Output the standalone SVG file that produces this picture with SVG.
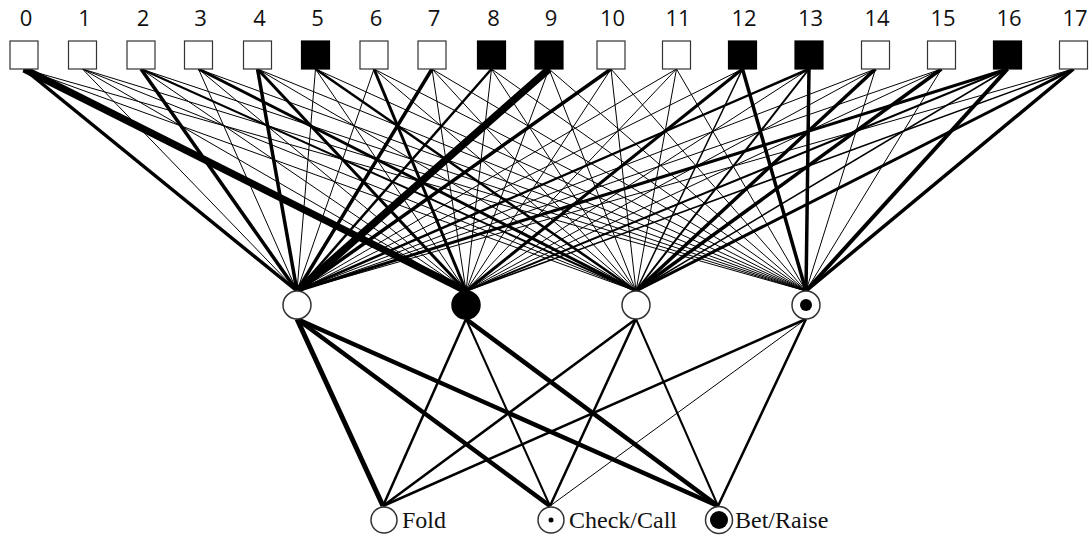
<svg xmlns="http://www.w3.org/2000/svg" width="1092" height="537" viewBox="0 0 1092 537">
<style>
.lbl{font-family:"Open Sans",sans-serif;font-size:22px;fill:#111;text-anchor:middle}
.out{font-family:"Liberation Serif",serif;font-size:24px;fill:#111}
.sq{fill:#fff;stroke:#333;stroke-width:1.2}
.sqf{fill:#000;stroke:#000;stroke-width:1.2}
.nd{fill:#fff;stroke:#333;stroke-width:1.5}
#edges line{stroke:#000;stroke-linecap:butt}
.a{stroke-width:1}.b{stroke-width:1.5}.c{stroke-width:2}.d{stroke-width:2.5}.e{stroke-width:3}.f{stroke-width:3.5}.g{stroke-width:4}.h{stroke-width:4.5}.i{stroke-width:5}.j{stroke-width:7}.k{stroke-width:7.5}
</style>
<rect width="1092" height="537" fill="#fff"/>
<g id="edges">
<!-- input 0 -->
<line class="f" x1="24" y1="69" x2="297" y2="291"/><line class="j" x1="24" y1="69" x2="466" y2="291"/><line class="a" x1="24" y1="69" x2="636" y2="291"/><line class="a" x1="24" y1="69" x2="806" y2="291"/>
<!-- 1 -->
<line class="a" x1="82.5" y1="69" x2="297" y2="291"/><line class="a" x1="82.5" y1="69" x2="466" y2="291"/><line class="a" x1="82.5" y1="69" x2="636" y2="291"/><line class="a" x1="82.5" y1="69" x2="806" y2="291"/>
<!-- 2 -->
<line class="f" x1="141" y1="69" x2="297" y2="291"/><line class="a" x1="141" y1="69" x2="466" y2="291"/><line class="c" x1="141" y1="69" x2="636" y2="291"/><line class="a" x1="141" y1="69" x2="806" y2="291"/>
<!-- 3 -->
<line class="a" x1="198.5" y1="69" x2="297" y2="291"/><line class="a" x1="198.5" y1="69" x2="466" y2="291"/><line class="e" x1="198.5" y1="69" x2="636" y2="291"/><line class="a" x1="198.5" y1="69" x2="806" y2="291"/>
<!-- 4 -->
<line class="f" x1="257.5" y1="69" x2="297" y2="291"/><line class="e" x1="257.5" y1="69" x2="466" y2="291"/><line class="a" x1="257.5" y1="69" x2="636" y2="291"/><line class="a" x1="257.5" y1="69" x2="806" y2="291"/>
<!-- 5 -->
<line class="a" x1="315.5" y1="69" x2="297" y2="291"/><line class="a" x1="315.5" y1="69" x2="466" y2="291"/><line class="d" x1="315.5" y1="69" x2="636" y2="291"/><line class="a" x1="315.5" y1="69" x2="806" y2="291"/>
<!-- 6 -->
<line class="a" x1="374" y1="69" x2="297" y2="291"/><line class="e" x1="374" y1="69" x2="466" y2="291"/><line class="a" x1="374" y1="69" x2="636" y2="291"/><line class="a" x1="374" y1="69" x2="806" y2="291"/>
<!-- 7 -->
<line class="f" x1="432" y1="69" x2="297" y2="291"/><line class="a" x1="432" y1="69" x2="466" y2="291"/><line class="a" x1="432" y1="69" x2="636" y2="291"/><line class="a" x1="432" y1="69" x2="806" y2="291"/>
<!-- 8 -->
<line class="d" x1="491.5" y1="69" x2="297" y2="291"/><line class="a" x1="491.5" y1="69" x2="466" y2="291"/><line class="a" x1="491.5" y1="69" x2="636" y2="291"/><line class="a" x1="491.5" y1="69" x2="806" y2="291"/>
<!-- 9 -->
<line class="k" x1="549" y1="69" x2="297" y2="291"/><line class="a" x1="549" y1="69" x2="466" y2="291"/><line class="a" x1="549" y1="69" x2="636" y2="291"/><line class="a" x1="549" y1="69" x2="806" y2="291"/>
<!-- 10 -->
<line class="f" x1="611" y1="69" x2="297" y2="291"/><line class="a" x1="611" y1="69" x2="466" y2="291"/><line class="a" x1="611" y1="69" x2="636" y2="291"/><line class="a" x1="611" y1="69" x2="806" y2="291"/>
<!-- 11 -->
<line class="a" x1="676.5" y1="69" x2="297" y2="291"/><line class="a" x1="676.5" y1="69" x2="466" y2="291"/><line class="a" x1="676.5" y1="69" x2="636" y2="291"/><line class="a" x1="676.5" y1="69" x2="806" y2="291"/>
<!-- 12 -->
<line class="a" x1="742.5" y1="69" x2="297" y2="291"/><line class="e" x1="742.5" y1="69" x2="466" y2="291"/><line class="b" x1="742.5" y1="69" x2="636" y2="291"/><line class="f" x1="742.5" y1="69" x2="806" y2="291"/>
<!-- 13 -->
<line class="d" x1="809" y1="69" x2="297" y2="291"/><line class="a" x1="809" y1="69" x2="466" y2="291"/><line class="c" x1="809" y1="69" x2="636" y2="291"/><line class="f" x1="809" y1="69" x2="806" y2="291"/>
<!-- 14 -->
<line class="a" x1="875.5" y1="69" x2="297" y2="291"/><line class="a" x1="875.5" y1="69" x2="466" y2="291"/><line class="f" x1="875.5" y1="69" x2="636" y2="291"/><line class="a" x1="875.5" y1="69" x2="806" y2="291"/>
<!-- 15 -->
<line class="a" x1="941.5" y1="69" x2="297" y2="291"/><line class="a" x1="941.5" y1="69" x2="466" y2="291"/><line class="f" x1="941.5" y1="69" x2="636" y2="291"/><line class="a" x1="941.5" y1="69" x2="806" y2="291"/>
<!-- 16 -->
<line class="e" x1="1007.5" y1="69" x2="297" y2="291"/><line class="c" x1="1007.5" y1="69" x2="466" y2="291"/><line class="b" x1="1007.5" y1="69" x2="636" y2="291"/><line class="g" x1="1007.5" y1="69" x2="806" y2="291"/>
<!-- 17 -->
<line class="a" x1="1073.5" y1="69" x2="297" y2="291"/><line class="b" x1="1073.5" y1="69" x2="466" y2="291"/><line class="e" x1="1073.5" y1="69" x2="636" y2="291"/><line class="f" x1="1073.5" y1="69" x2="806" y2="291"/>
<!-- hidden to output -->
<line class="i" x1="297" y1="319" x2="383" y2="506"/><line class="h" x1="297" y1="319" x2="550" y2="506"/><line class="h" x1="297" y1="319" x2="718" y2="506"/>
<line class="d" x1="466" y1="319" x2="383" y2="506"/><line class="c" x1="466" y1="319" x2="550" y2="506"/><line class="h" x1="466" y1="319" x2="718" y2="506"/>
<line class="d" x1="636" y1="319" x2="383" y2="506"/><line class="d" x1="636" y1="319" x2="550" y2="506"/><line class="c" x1="636" y1="319" x2="718" y2="506"/>
<line class="d" x1="806" y1="319" x2="383" y2="506"/><line class="a" x1="806" y1="319" x2="550" y2="506"/><line class="d" x1="806" y1="319" x2="718" y2="506"/>
</g>
<g id="in0"><rect class="sq" x="10" y="41" width="28" height="28"/><text class="lbl" x="26" y="26">0</text></g>
<g id="in1"><rect class="sq" x="68.5" y="41" width="28" height="28"/><text class="lbl" x="84.5" y="26">1</text></g>
<g id="in2"><rect class="sq" x="127" y="41" width="28" height="28"/><text class="lbl" x="143" y="26">2</text></g>
<g id="in3"><rect class="sq" x="184.5" y="41" width="28" height="28"/><text class="lbl" x="200.5" y="26">3</text></g>
<g id="in4"><rect class="sq" x="243.5" y="41" width="28" height="28"/><text class="lbl" x="259.5" y="26">4</text></g>
<g id="in5"><rect class="sqf" x="301.5" y="41" width="28" height="28"/><text class="lbl" x="317.5" y="26">5</text></g>
<g id="in6"><rect class="sq" x="360" y="41" width="28" height="28"/><text class="lbl" x="376" y="26">6</text></g>
<g id="in7"><rect class="sq" x="418" y="41" width="28" height="28"/><text class="lbl" x="434" y="26">7</text></g>
<g id="in8"><rect class="sqf" x="477.5" y="41" width="28" height="28"/><text class="lbl" x="493.5" y="26">8</text></g>
<g id="in9"><rect class="sqf" x="535" y="41" width="28" height="28"/><text class="lbl" x="551" y="26">9</text></g>
<g id="in10"><rect class="sq" x="597" y="41" width="28" height="28"/><text class="lbl" x="612.5" y="26">10</text></g>
<g id="in11"><rect class="sq" x="662.5" y="41" width="28" height="28"/><text class="lbl" x="678" y="26">11</text></g>
<g id="in12"><rect class="sqf" x="728.5" y="41" width="28" height="28"/><text class="lbl" x="744" y="26">12</text></g>
<g id="in13"><rect class="sqf" x="795" y="41" width="28" height="28"/><text class="lbl" x="810.5" y="26">13</text></g>
<g id="in14"><rect class="sq" x="861.5" y="41" width="28" height="28"/><text class="lbl" x="877" y="26">14</text></g>
<g id="in15"><rect class="sq" x="927.5" y="41" width="28" height="28"/><text class="lbl" x="943" y="26">15</text></g>
<g id="in16"><rect class="sqf" x="993.5" y="41" width="28" height="28"/><text class="lbl" x="1009" y="26">16</text></g>
<g id="in17"><rect class="sq" x="1059.5" y="41" width="28" height="28"/><text class="lbl" x="1075" y="26">17</text></g>
<g id="h1"><circle class="nd" cx="297" cy="305" r="14"/></g>
<g id="h2"><circle cx="466" cy="305" r="14" fill="#000" stroke="#000" stroke-width="1.5"/></g>
<g id="h3"><circle class="nd" cx="636" cy="305" r="14"/></g>
<g id="h4"><circle class="nd" cx="806" cy="305" r="14"/><circle cx="806" cy="305" r="6" fill="#000"/></g>
<g id="fold"><circle class="nd" cx="384" cy="520" r="13"/><text class="out" x="402" y="528">Fold</text></g>
<g id="check"><circle class="nd" cx="551" cy="520" r="13"/><circle cx="551" cy="520" r="2.5" fill="#000"/><text class="out" x="569" y="528">Check/Call</text></g>
<g id="bet"><circle class="nd" cx="719" cy="520" r="13.5"/><circle cx="719" cy="520" r="9" fill="#000"/><text class="out" x="735" y="528">Bet/Raise</text></g>
</svg>
